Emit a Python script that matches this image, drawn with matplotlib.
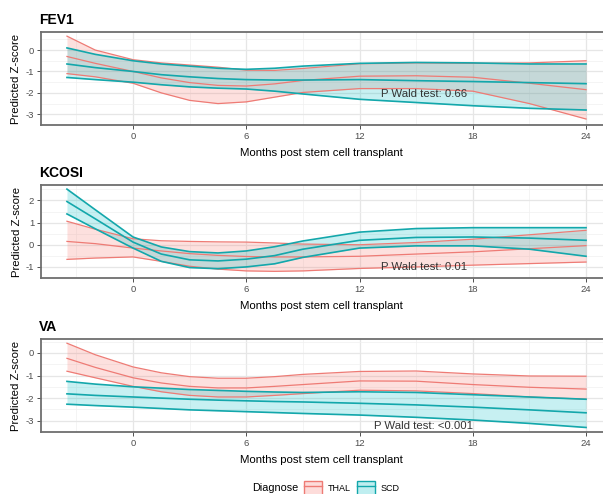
import matplotlib
matplotlib.use("Agg")
import matplotlib.pyplot as plt
from matplotlib.patches import Patch
from matplotlib.lines import Line2D
from matplotlib.legend_handler import HandlerTuple

plt.rcParams['font.family'] = ['Liberation Sans', 'DejaVu Sans']
plt.rcParams['axes.unicode_minus'] = False

months = [-3.5, -2, 0, 1.5, 3, 4.5, 6, 7.5, 9, 12, 15, 18, 21, 24]
groups = ["THAL", "SCD"]
colors = {"THAL": "#F8766D", "SCD": "#00BFC4"}
line_colors = {"THAL": "#EE7B75", "SCD": "#13A7AB"}

# FEV1
fev1_thal_mean = [-0.30, -0.62, -1.00, -1.30, -1.52, -1.65, -1.68, -1.58, -1.42, -1.22, -1.20, -1.27, -1.55, -1.85]
fev1_thal_lo = [-1.10, -1.25, -1.55, -2.00, -2.35, -2.50, -2.42, -2.20, -1.98, -1.80, -1.80, -1.92, -2.50, -3.22]
fev1_thal_hi = [0.65, 0.00, -0.45, -0.60, -0.70, -0.80, -0.94, -0.95, -0.86, -0.64, -0.60, -0.62, -0.60, -0.50]
fev1_scd_mean = [-0.65, -0.82, -1.00, -1.15, -1.25, -1.33, -1.38, -1.40, -1.40, -1.38, -1.43, -1.47, -1.52, -1.57]
fev1_scd_hi = [0.10, -0.20, -0.50, -0.65, -0.75, -0.85, -0.90, -0.85, -0.75, -0.62, -0.58, -0.60, -0.65, -0.65]
fev1_scd_lo = [-1.28, -1.38, -1.50, -1.62, -1.72, -1.78, -1.82, -1.92, -2.05, -2.30, -2.45, -2.60, -2.72, -2.80]

# KCOSI
kcosi_thal_mean = [0.15, 0.05, -0.15, -0.28, -0.40, -0.48, -0.53, -0.55, -0.55, -0.52, -0.42, -0.32, -0.18, -0.04]
kcosi_thal_hi = [1.06, 0.70, 0.27, 0.18, 0.15, 0.13, 0.12, 0.08, 0.03, 0.00, 0.10, 0.25, 0.45, 0.65]
kcosi_thal_lo = [-0.66, -0.60, -0.55, -0.75, -0.97, -1.10, -1.18, -1.20, -1.18, -1.07, -1.00, -0.92, -0.85, -0.78]
kcosi_scd_mean = [1.95, 1.17, 0.12, -0.42, -0.68, -0.73, -0.65, -0.49, -0.20, 0.20, 0.33, 0.35, 0.30, 0.20]
kcosi_scd_hi = [2.51, 1.58, 0.35, -0.10, -0.31, -0.37, -0.28, -0.09, 0.17, 0.57, 0.73, 0.77, 0.77, 0.77]
kcosi_scd_lo = [1.39, 0.72, -0.15, -0.75, -1.03, -1.08, -1.00, -0.86, -0.57, -0.15, -0.05, -0.05, -0.20, -0.52]

# VA
va_thal_hi = [0.43, -0.08, -0.62, -0.88, -1.05, -1.12, -1.12, -1.05, -0.95, -0.82, -0.80, -0.93, -1.02, -1.03]
va_thal_mean = [-0.24, -0.64, -1.10, -1.33, -1.48, -1.55, -1.55, -1.48, -1.40, -1.24, -1.25, -1.40, -1.52, -1.60]
va_thal_lo = [-0.81, -1.10, -1.48, -1.72, -1.88, -1.95, -1.95, -1.88, -1.80, -1.65, -1.68, -1.80, -1.95, -2.05]
va_scd_hi = [-1.26, -1.38, -1.50, -1.56, -1.62, -1.66, -1.70, -1.73, -1.75, -1.72, -1.75, -1.85, -1.95, -2.05]
va_scd_mean = [-1.81, -1.88, -1.95, -2.00, -2.05, -2.09, -2.12, -2.15, -2.17, -2.23, -2.30, -2.40, -2.52, -2.65]
va_scd_lo = [-2.27, -2.33, -2.40, -2.46, -2.52, -2.56, -2.60, -2.64, -2.68, -2.75, -2.85, -2.97, -3.12, -3.30]

panels = [
    ("FEV1", {"THAL": (fev1_thal_mean, fev1_thal_lo, fev1_thal_hi),
              "SCD": (fev1_scd_mean, fev1_scd_lo, fev1_scd_hi)},
     [-3, -2, -1, 0], "P Wald test: 0.66", -2.05),
    ("KCOSI", {"THAL": (kcosi_thal_mean, kcosi_thal_lo, kcosi_thal_hi),
               "SCD": (kcosi_scd_mean, kcosi_scd_lo, kcosi_scd_hi)},
     [-1, 0, 1, 2], "P Wald test: 0.01", -1.0),
    ("VA", {"THAL": (va_thal_mean, va_thal_lo, va_thal_hi),
            "SCD": (va_scd_mean, va_scd_lo, va_scd_hi)},
     [-3, -2, -1, 0], "P Wald test: <0.001", -3.22),
]

x_ticks = [0, 6, 12, 18, 24]
x_minor = [-3, 3, 9, 15, 21]
text_x = 15.4

W, H = 603, 494
fig = plt.figure(figsize=(W / 100, H / 100), dpi=100)

# panel boxes in pixels: (top, bottom)
boxes = [(32, 125), (185, 278), (339, 432)]
left_px, width_px = 41, 571

for (title, data, yt, ptxt, ptxt_y), (top, bot) in zip(panels, boxes):
    ax = fig.add_axes([left_px / W, 1 - bot / H, width_px / W, (bot - top) / H])
    allv = [v for g in data.values() for s in g for v in s]
    lo, hi = min(allv), max(allv)
    span = hi - lo
    ax.set_ylim(lo - 0.05 * span, hi + 0.05 * span)
    ax.set_xlim(-3.5 - 0.05 * 27.5, 24 + 0.05 * 27.5)

    ax.set_xticks(x_ticks)
    ax.set_xticks(x_minor, minor=True)
    ax.set_yticks(yt)
    ax.set_yticks([v + 0.5 for v in yt[:-1]] + [yt[0] - 0.5, yt[-1] + 0.5], minor=True)
    ax.grid(which='major', color='#E6E6E6', lw=0.9, zorder=0)
    ax.grid(which='minor', color='#F0F0F0', lw=0.5, zorder=0)
    ax.set_axisbelow(True)
    ax.tick_params(which='minor', length=0)
    ax.tick_params(which='major', length=3, width=0.6, color='#333333',
                   labelsize=6.8, labelcolor='#4D4D4D', pad=2)
    for sp in ax.spines.values():
        sp.set_color('#6E6E6E')
        sp.set_linewidth(1.3)

    for g in groups:
        mean, low, high = data[g]
        ax.fill_between(months, low, high, color=colors[g], alpha=0.22, lw=0, zorder=2)
        lw = 0.9 if g == "THAL" else 1.2
        ax.plot(months, high, color=line_colors[g], lw=lw, zorder=3)
        ax.plot(months, low, color=line_colors[g], lw=lw, zorder=3)
        ax.plot(months, mean, color=line_colors[g], lw=lw, zorder=3)

    ax.text(text_x, ptxt_y, ptxt, ha='center', va='center', fontsize=8.2,
            color='#333333', zorder=5)
    ax.set_ylabel("Predicted Z-score", fontsize=8.2, labelpad=3)
    ax.set_xlabel("Months post stem cell transplant", fontsize=8.2, labelpad=3)
    ax.xaxis.set_label_coords((321 - left_px) / width_px, -0.245)
    ax.set_title(title, loc='left', fontsize=10, fontweight='bold', pad=6, x=-0.003)

handles = []
for g in groups:
    fill = Patch(facecolor=colors[g], alpha=0.25, lw=0)
    edge = Patch(facecolor='none', edgecolor=line_colors[g], lw=1.0)
    ln = Line2D([], [], color=line_colors[g], lw=1.0)
    handles.append((fill, edge, ln))

fig.text(298 / W, 1 - 488 / H, "Diagnose", ha='right', va='center', fontsize=7.8)
fig.legend(handles=handles, labels=groups, ncol=2, frameon=False,
           handler_map={tuple: HandlerTuple(ndivide=1, pad=0)},
           loc='center left', bbox_to_anchor=(304 / W, 1 - 488 / H),
           fontsize=6.5, handlelength=2.0, handleheight=1.9,
           handletextpad=0.6, columnspacing=0.7, borderpad=0, borderaxespad=0)

fig.savefig("out.png", dpi=100)
